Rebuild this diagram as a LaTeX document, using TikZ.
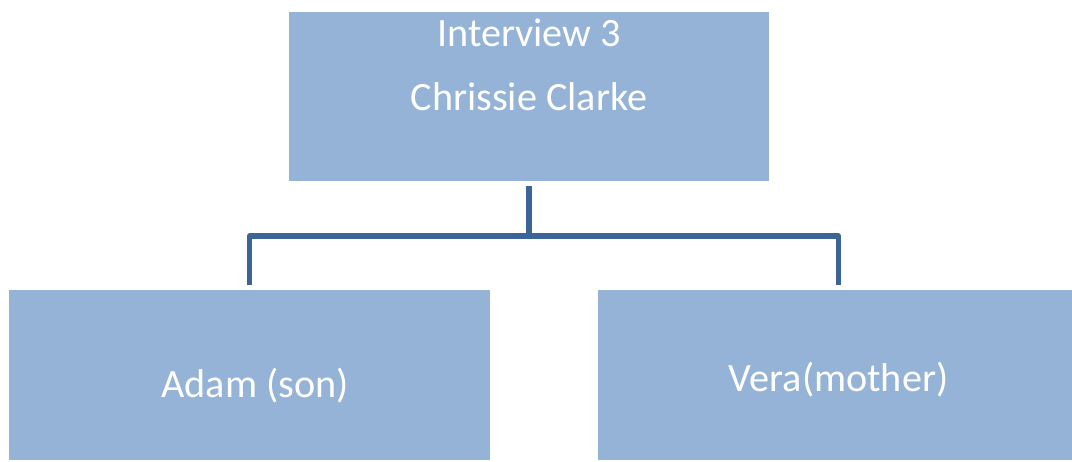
\documentclass[tikz,border=0pt]{standalone}
\usepackage{fontspec}
\setmainfont{Carlito}
\definecolor{boxfill}{RGB}{149,179,215}
\definecolor{linkblue}{RGB}{60,100,150}
\tikzset{
  orgbox/.style={fill=boxfill, draw=none, minimum width=481pt, minimum height=170pt, inner sep=0pt},
  label/.style={text=white, font=\fontsize{40.2}{48}\selectfont, anchor=base, inner sep=0pt},
  conn/.style={draw=linkblue, line width=5.5pt, line join=round}
}
\begin{document}
\begin{tikzpicture}[x=1pt,y=-1pt]
  \useasboundingbox (0,0) rectangle (1072,461);
  \clip (0,0) rectangle (1072,461);
  % boxes
  \node[orgbox, minimum width=480pt, minimum height=169pt] (top) at (529,96.5) {};
  \node[orgbox] (left) at (249.5,375) {};
  \node[orgbox] (right) at (838.5,375) {};
  % texts
  \node[label] (t1) at (529,46.5) {Interview 3};
  \node[label] (t2) at (529,110) {Chrissie Clarke};
  \node[label] (t3) at (255,397) {Adam (son)};
  \node[label] (t4) at (838.5,391.5) {Vera(mother)};
  % connectors
  \draw[conn] ([yshift=-5pt]top.south) -- ++(0,50) coordinate (hub);
  \draw[conn] ([yshift=5pt]left.north) |- (hub) -| ([yshift=5pt]right.north);
\end{tikzpicture}
\end{document}
